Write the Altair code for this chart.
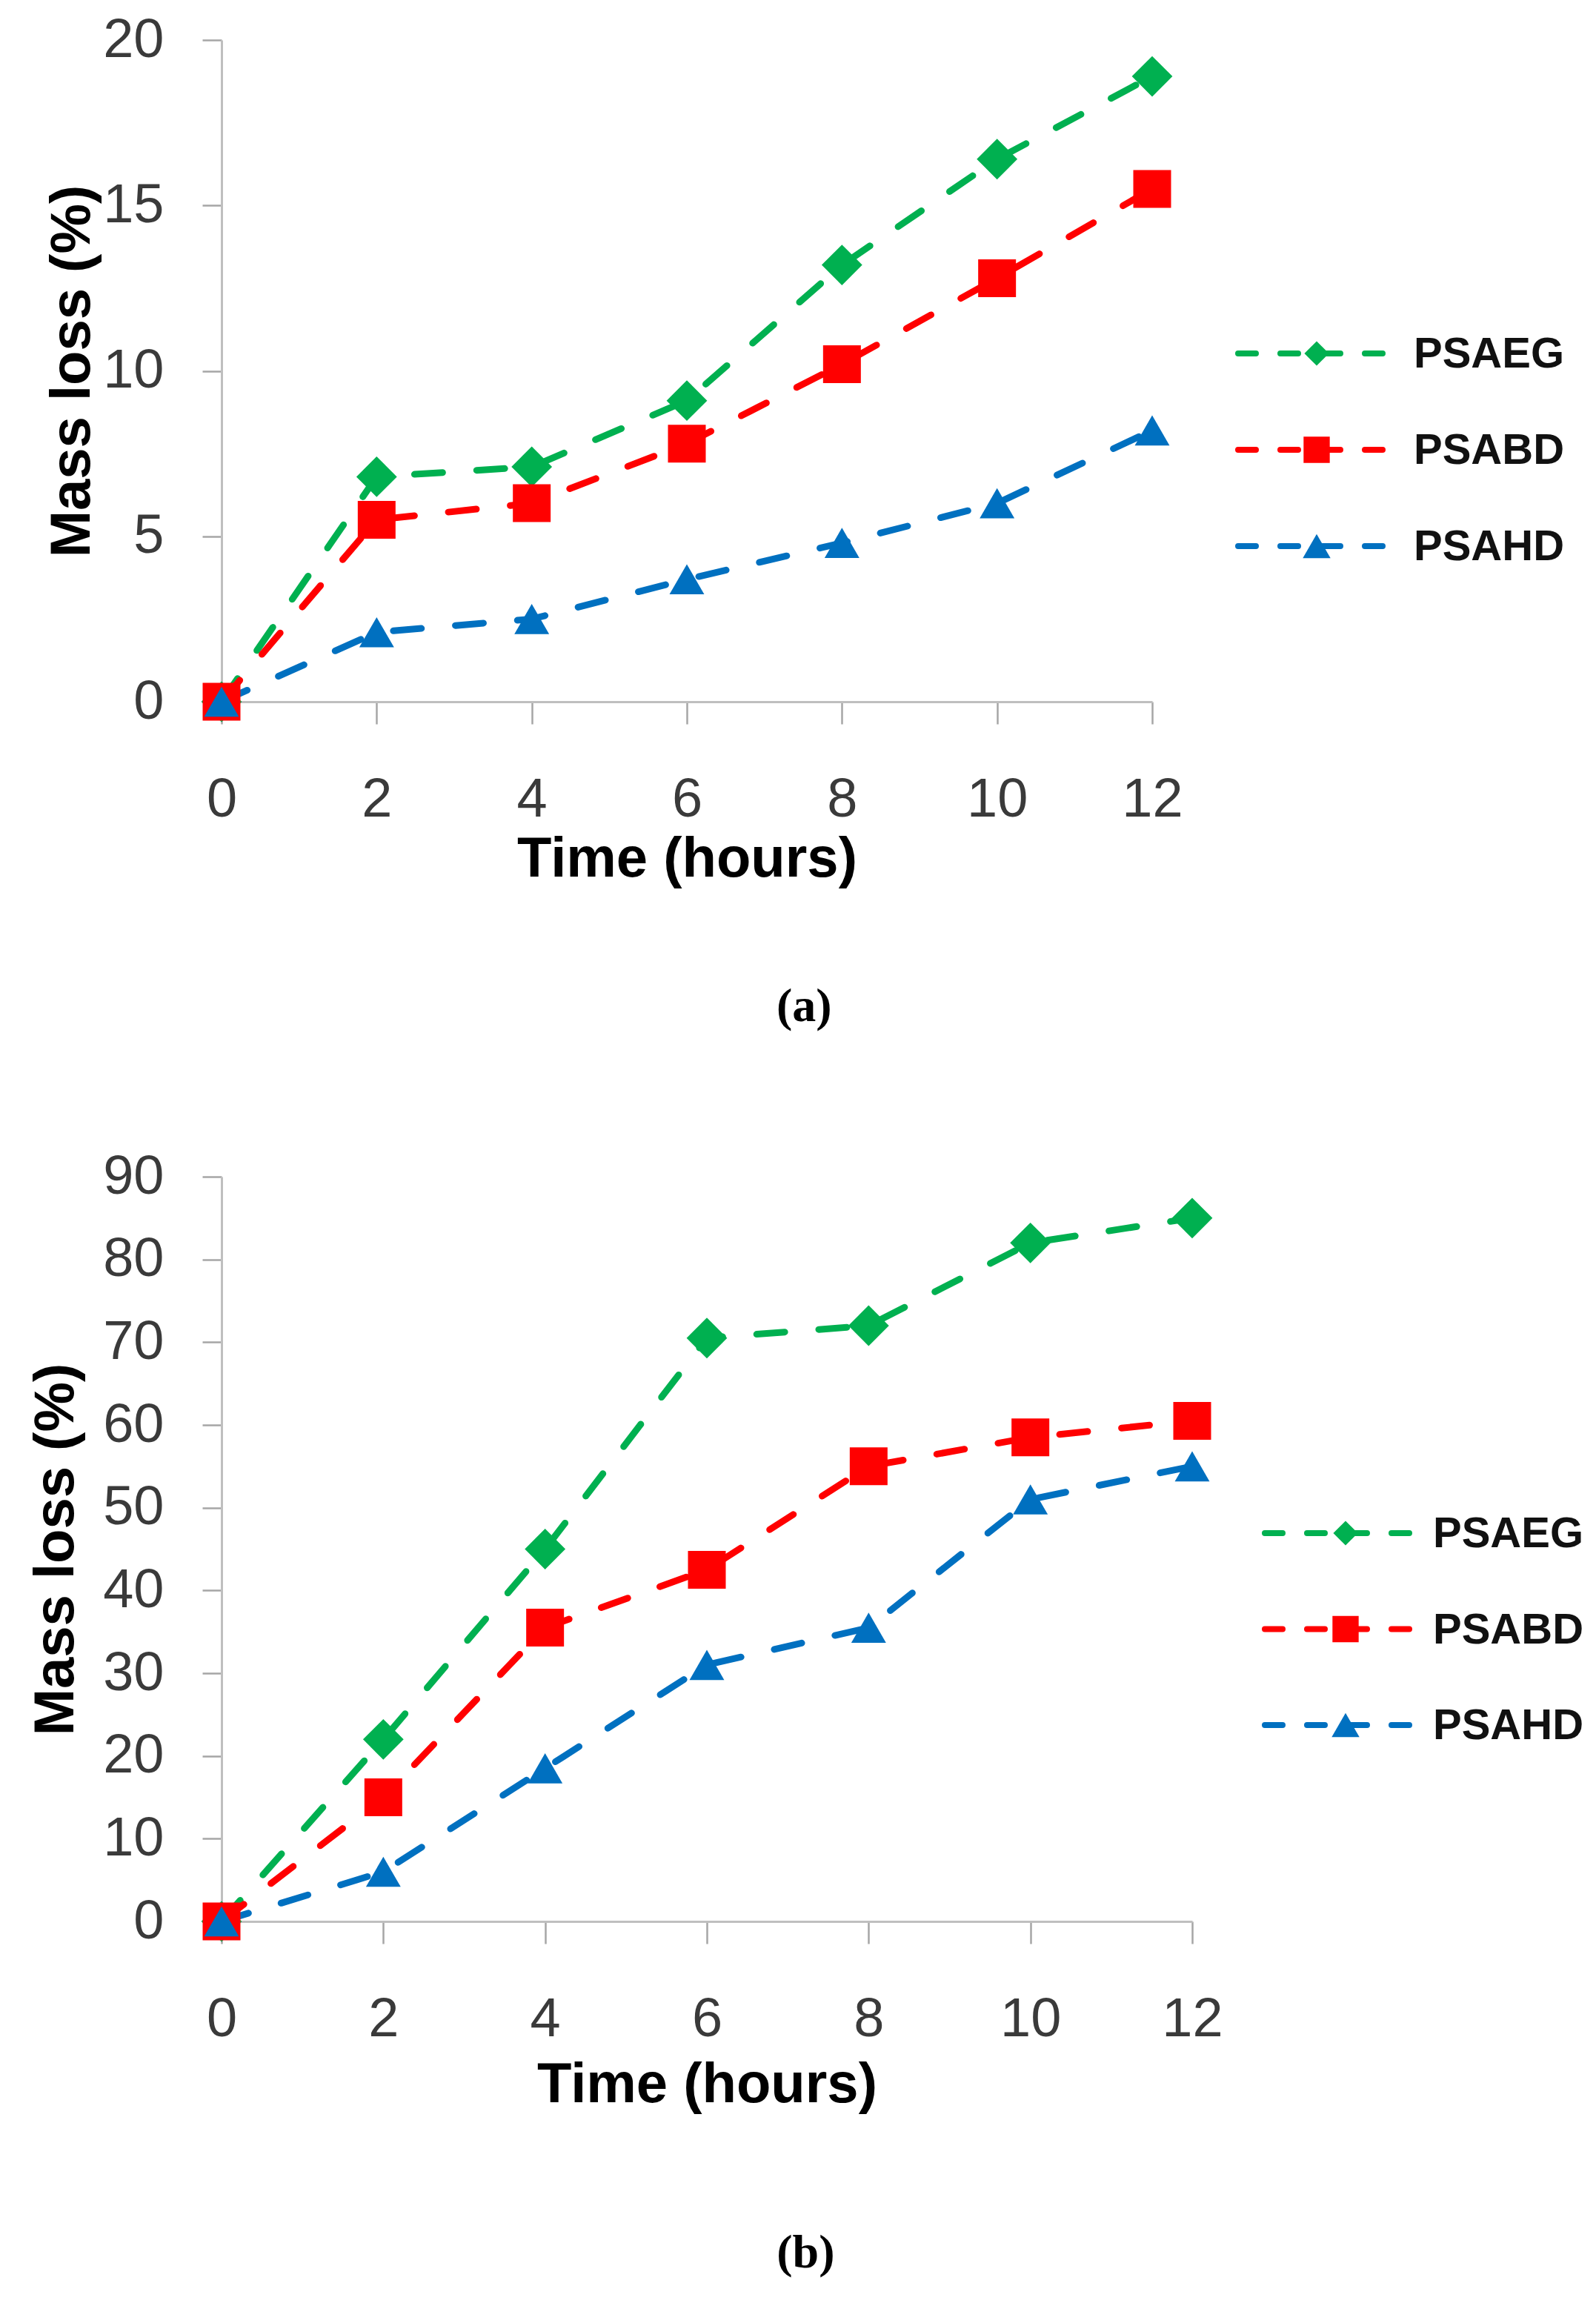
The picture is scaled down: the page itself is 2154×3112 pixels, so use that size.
import altair as alt
import pandas as pd

# ---- data
HOURS = [0, 2, 4, 6, 8, 10, 12]
SERIES = ["PSAEG", "PSABD", "PSAHD"]
COLORS = ["#00B050", "#FF0000", "#0070C0"]
SHAPES = ["diamond", "square", "triangle-up"]

# (a) mass loss (%)
A_PSAEG = [0, 6.8, 7.1, 9.1, 13.2, 16.4, 18.9]
A_PSABD = [0, 5.5, 6.0, 7.8, 10.2, 12.8, 15.5]
A_PSAHD = [0, 2.1, 2.5, 3.7, 4.8, 6.0, 8.2]

# (b) mass loss (%)
B_PSAEG = [0, 22, 45, 70.5, 72, 82, 85]
B_PSABD = [0, 15, 35.5, 42.5, 55, 58.5, 60.5]
B_PSAHD = [0, 6, 18.5, 31, 35.5, 51, 55]

TICK_FONT = "Liberation Sans"
LEG_FONT = "Liberation Sans"


def long_df(values):
    rows = []
    for name, vals in zip(SERIES, values):
        for h, v in zip(HOURS, vals):
            rows.append({"time": h, "loss": v, "series": name})
    return pd.DataFrame(rows)


color_scale = alt.Scale(domain=SERIES, range=COLORS)
shape_scale = alt.Scale(domain=SERIES, range=SHAPES)


def panel(values, ymax, ystep, width, height, leg, caption, ytitle_pad,
          xtitle_pad, cap_offset):
    df = long_df(values)
    x = alt.X(
        "time:Q",
        scale=alt.Scale(domain=[0, 12], nice=False),
        axis=alt.Axis(values=HOURS, format="d", title="Time (hours)",
                      tickSize=30, labelPadding=66, titlePadding=xtitle_pad,
                      labelOverlap=False, labelFlush=False),
    )
    y = alt.Y(
        "loss:Q",
        scale=alt.Scale(domain=[0, ymax], nice=False),
        axis=alt.Axis(values=list(range(0, ymax + 1, ystep)), format="d",
                      title="Mass loss (%)", tickSize=26, labelPadding=52,
                      titlePadding=ytitle_pad, labelOverlap=False,
                      labelFlush=False),
    )
    lines = alt.Chart(df).mark_line(
        strokeWidth=9, strokeDash=[38, 46], strokeCap="round"
    ).encode(
        x=x, y=y,
        color=alt.Color("series:N", scale=color_scale, legend=None),
        detail="series:N",
    )
    points = alt.Chart(df).mark_point(filled=True, opacity=1).encode(
        x="time:Q", y="loss:Q",
        color=alt.Color("series:N", scale=color_scale, legend=None),
        shape=alt.Shape("series:N", scale=shape_scale, legend=None),
        size=alt.Size("series:N", legend=None,
                      scale=alt.Scale(domain=SERIES, range=[3000, 2200, 2400])),
    )
    main = alt.layer(lines, points)

    # hand-drawn legend to the right of the plot
    ldf = pd.DataFrame({"series": SERIES})
    ly = alt.Y("series:N", axis=None,
               scale=alt.Scale(type="point", domain=SERIES,
                               range=leg["rows"], padding=0))
    lcol = alt.Color("series:N", scale=color_scale, legend=None)
    lrule = alt.Chart(ldf).mark_rule(
        strokeWidth=8, strokeDash=[24, 33], strokeCap="round"
    ).encode(x=alt.value(leg["x0"]), x2=alt.value(leg["x1"]), y=ly, color=lcol)
    lpts = alt.Chart(ldf).mark_point(filled=True, opacity=1).encode(
        x=alt.value(leg["xm"]), y=ly, color=lcol,
        shape=alt.Shape("series:N", scale=shape_scale, legend=None),
        size=alt.Size("series:N", legend=None,
                      scale=alt.Scale(domain=SERIES, range=[1100, 1400, 1600])),
    )
    ltxt = alt.Chart(ldf).mark_text(
        align="left", baseline="middle", font=LEG_FONT, fontSize=58,
        fontWeight="bold", color="#111111", dy=2,
    ).encode(x=alt.value(leg["xt"]), y=ly, text="series:N")
    legend = alt.layer(lrule, lpts, ltxt)

    return alt.layer(main, legend).resolve_scale(
        y="independent", size="independent"
    ).properties(
        width=width, height=height,
        title=alt.TitleParams(caption, orient="bottom", anchor="middle",
                              frame="bounds", font="Liberation Serif",
                              fontSize=64, fontWeight="bold", color="#000000",
                              offset=cap_offset),
    )


chart_a = panel(
    [A_PSAEG, A_PSABD, A_PSAHD], 20, 5, 1256, 893,
    {"rows": [423, 683], "x0": 1372, "x1": 1572, "xm": 1478, "xt": 1609},
    "(a)", 2, 6, 130,
)
chart_b = panel(
    [B_PSAEG, B_PSABD, B_PSAHD], 90, 10, 1310, 1005,
    {"rows": [481, 740], "x0": 1408, "x1": 1608, "xm": 1517, "xt": 1635},
    "(b)", 24, 14, 158,
)

chart = alt.vconcat(chart_a, chart_b, spacing=160).configure_view(
    stroke=None
).configure_axis(
    grid=False,
    domainColor="#BFBFBF", domainWidth=3,
    tickColor="#A6A6A6", tickWidth=2.5,
    labelFont=TICK_FONT, labelFontSize=74, labelColor="#3A3A3A",
    titleFont=TICK_FONT, titleFontSize=76, titleFontWeight="bold",
    titleColor="#000000",
).configure_axisY(
    labelAlign="right", labelBaseline="middle",
).properties(
    background="white",
    padding={"left": 29, "top": 9, "right": 5, "bottom": 5},
)

chart.save("out.html", embed_options={"renderer": "svg", "actions": False})
